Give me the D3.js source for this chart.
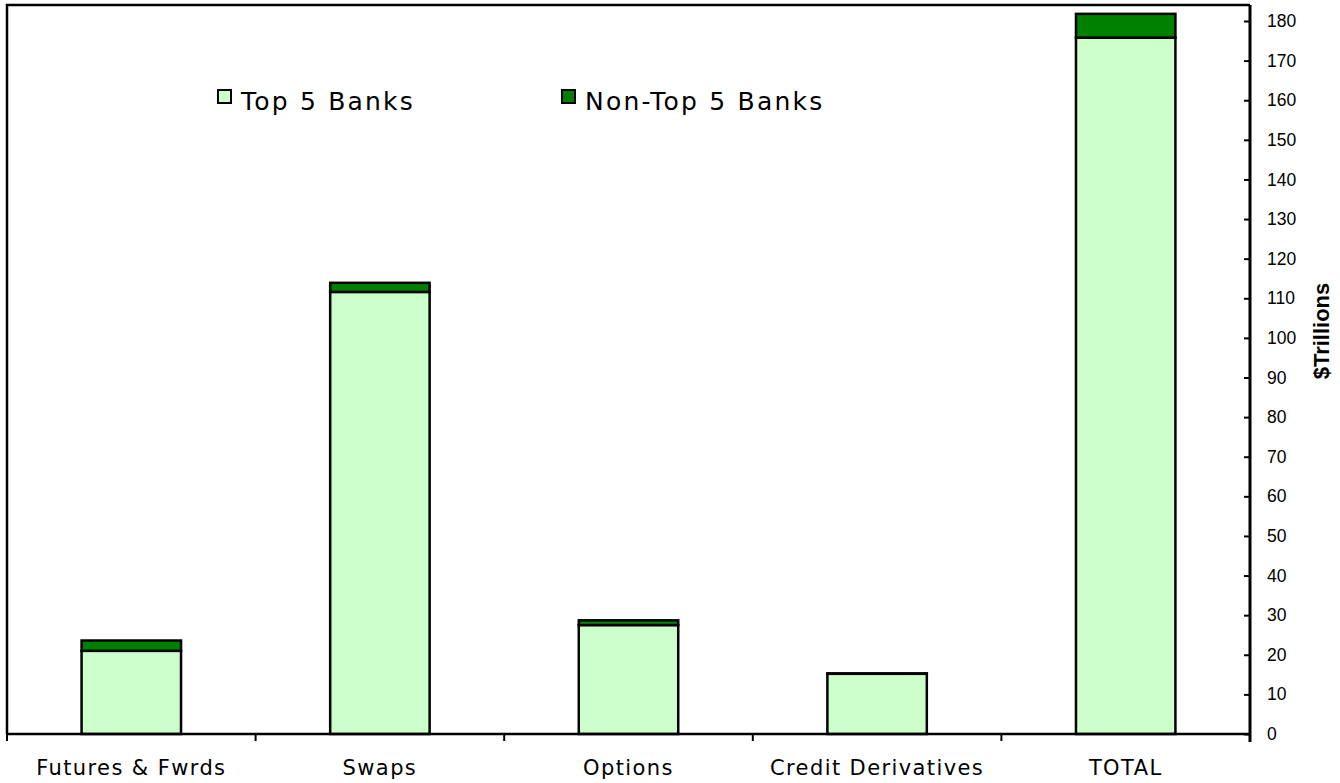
<!DOCTYPE html>
<html>
<head>
<meta charset="utf-8">
<script src="https://cdn.jsdelivr.net/npm/d3@7"></script>
<style>
  body { margin: 0; background: #fff; }
</style>
</head>
<body>
<svg id="chart" width="1340" height="783"></svg>
<script>
// values, $ trillions
const categories = ["Futures & Fwrds", "Swaps", "Options", "Credit Derivatives", "TOTAL"];
const top5 = [21.0, 111.6, 27.5, 15.2, 175.8];
const nonTop5 = [2.6, 2.3, 1.2, 0.1, 6.0];
const seriesNames = ["Top 5 Banks", "Non-Top 5 Banks"];
const seriesColors = ["#ccffcc", "#008000"];
const yTicks = d3.range(0, 181, 10);

const plotLeft = 7, plotRight = 1250, plotTop = 5, plotBottom = 734;

const svg = d3.select("#chart");

const x = d3.scaleBand()
    .domain(categories)
    .range([plotLeft, plotRight])
    .paddingInner(0.6)
    .paddingOuter(0.3);

const y = d3.scaleLinear()
    .domain([0, 180])
    .range([plotBottom, 21]);

// stack the two series
const rows = categories.map((c, i) => ({cat: c, a: top5[i], b: nonTop5[i]}));
const stacked = d3.stack().keys(["a", "b"])(rows);

// frame: top and left border
svg.append("path")
    .attr("d", `M${plotLeft},${plotBottom}V${plotTop}H${plotRight}`)
    .attr("fill", "none")
    .attr("stroke", "#000")
    .attr("stroke-width", 2.5);

svg.append("g")
  .selectAll("g")
  .data(stacked)
  .join("g")
    .attr("fill", (d, i) => seriesColors[i])
  .selectAll("rect")
  .data(d => d)
  .join("rect")
    .attr("x", d => x(d.data.cat))
    .attr("width", x.bandwidth())
    .attr("y", d => y(d[1]))
    .attr("height", d => y(d[0]) - y(d[1]))
    .attr("stroke", "#000")
    .attr("stroke-width", 2.5);

// bottom axis with ticks between categories
const bandStep = x.step();
const catEdges = d3.range(categories.length + 1).map(i => plotLeft + i * bandStep);
svg.append("line")
    .attr("x1", plotLeft).attr("x2", plotRight)
    .attr("y1", plotBottom).attr("y2", plotBottom)
    .attr("stroke", "#000").attr("stroke-width", 2.5);
svg.append("g")
  .selectAll("line")
  .data(catEdges)
  .join("line")
    .attr("x1", d => d).attr("x2", d => d)
    .attr("y1", plotBottom).attr("y2", plotBottom + 7)
    .attr("stroke", "#000").attr("stroke-width", 2);

svg.append("g")
  .selectAll("text")
  .data(categories)
  .join("text")
    .attr("x", d => x(d) + x.bandwidth() / 2)
    .attr("y", 775)
    .attr("text-anchor", "middle")
    .attr("font-family", "DejaVu Sans, Verdana, sans-serif")
    .attr("font-size", 21)
    .attr("letter-spacing", 1.4)
    .attr("fill", "#000")
    .text(d => d);

// right value axis
const yAxis = d3.axisRight(y)
    .tickValues(yTicks)
    .tickSize(0)
    .tickPadding(17);
const ya = svg.append("g")
    .attr("transform", `translate(${plotRight},0)`)
    .call(yAxis);
ya.select(".domain")
    .attr("d", `M0,${plotTop}V${plotBottom + 8}`)
    .attr("stroke", "#000")
    .attr("stroke-width", 3);
ya.selectAll(".tick line")
    .attr("x1", -6).attr("x2", 0)
    .attr("stroke", "#000").attr("stroke-width", 2);
ya.selectAll(".tick text")
    .attr("font-family", "Liberation Sans, Arial, sans-serif")
    .attr("font-size", 17.5)
    .attr("fill", "#000");

svg.append("text")
    .attr("transform", "translate(1329,331) rotate(-90)")
    .attr("text-anchor", "middle")
    .attr("font-family", "Liberation Sans, Arial, sans-serif")
    .attr("font-weight", "bold")
    .attr("font-size", 22)
    .text("$Trillions");

// legend
const legendX = [218, 562];
const legend = svg.append("g")
  .selectAll("g")
  .data(seriesNames)
  .join("g")
    .attr("transform", (d, i) => `translate(${legendX[i]},90)`);
legend.append("rect")
    .attr("width", 13).attr("height", 13)
    .attr("fill", (d, i) => seriesColors[i])
    .attr("stroke", "#000").attr("stroke-width", 2);
legend.append("text")
    .attr("x", 23).attr("y", 20)
    .attr("font-family", "DejaVu Sans, Verdana, sans-serif")
    .attr("font-size", 25)
    .attr("letter-spacing", 2.2)
    .text(d => d);
</script>
</body>
</html>
